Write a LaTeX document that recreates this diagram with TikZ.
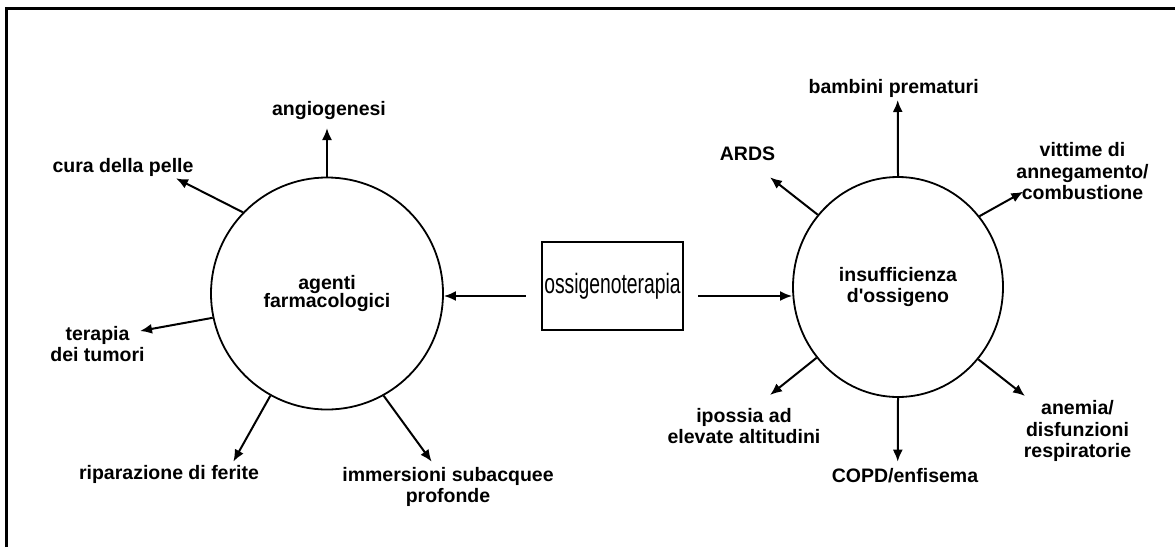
\documentclass[tikz,border=0pt]{standalone}
\usepackage{fontspec}
\setmainfont{Liberation Sans}
\usetikzlibrary{arrows.meta,shapes.geometric}
\tikzset{
  lbl/.style={font=\bfseries\fontsize{19.5}{21.5}\selectfont, align=center, inner sep=0pt},
  arr/.style={line width=2pt, -{Latex[length=12pt,width=10pt]}},
  hub/.style={draw, line width=1.8pt, inner sep=0pt, font=\bfseries\fontsize{19.5}{21.5}\selectfont, align=center},
  boxnode/.style={draw, line width=2pt, minimum width=141pt, minimum height=88pt, inner sep=0pt}
}
\begin{document}
\begin{tikzpicture}[x=1pt,y=-1pt]
\useasboundingbox (0,0) rectangle (1175,547);
% frame
\draw[line width=3pt] (6.5,547) -- (6.5,8.2) -- (1175,8.2);

% hubs
\node[hub, circle, minimum size=232pt] (L) at (327,293.5) {\raisebox{-3.5pt}{agenti}\\[-1pt]farmacologici};
\node[hub, ellipse, minimum width=210pt, minimum height=220pt] (R) at (898,287) {insufficienza\\d\textquotesingle ossigeno};
\node[boxnode] (B) at (612.5,286) {\scalebox{0.69}[1]{\fontsize{28}{30}\selectfont ossigenoterapia}};

% arrows from box
\coordinate (bl) at (525.7,296);
\coordinate (br) at (698,296);
\draw[arr] (bl) -- (bl -| L.east);
\draw[arr] (br) -- (br -| R.west);

% left tips and labels
\coordinate (t1) at (327,128);
\coordinate (t2) at (176,178.3);
\coordinate (t3) at (140,331);
\coordinate (t4) at (233.3,461.7);
\coordinate (t5) at (431.7,461.7);
\draw[arr] (L.90) -- (t1);
\draw[arr] (L.136.8) -- (t2);
\draw[arr] (L.192.8) -- (t3);
\draw[arr] (L.241.2) -- (t4);
\draw[arr] (L.299.3) -- (t5);
\node[lbl] (n1) at (329,110) {angiogenesi};
\node[lbl] (n2) at (123,167) {cura della pelle};
\node[lbl] (n3) at (97.5,344) {terapia\\dei tumori};
\node[lbl] (n4) at (169,474) {riparazione di ferite};
\node[lbl] (n5) at (448,487) {immersioni subacquee\\profonde};

% right tips and labels
\coordinate (u1) at (897.7,100);
\coordinate (u2) at (770,177.3);
\coordinate (u3) at (1023.3,191.7);
\coordinate (u4) at (770,395);
\coordinate (u5) at (897.7,461.7);
\coordinate (u6) at (1025,396);
\draw[arr] (R.90) -- (u1);
\draw[arr] (R.138.5) -- (u2);
\draw[arr] (R.41.9) -- (u3);
\draw[arr] (R.221.2) -- (u4);
\draw[arr] (R.270) -- (u5);
\draw[arr] (R.318.4) -- (u6);
\node[lbl] (m1) at (893.7,88) {bambini prematuri};
\node[lbl] (m2) at (747.5,154) {ARDS};
\node[lbl] (m3) at (1082.5,171.5) {vittime di\\annegamento/\\combustione};
\node[lbl] (m4) at (744,426) {ipossia ad\\elevate altitudini};
\node[lbl] (m5) at (905,476) {COPD/enfisema};
\node[lbl] (m6) at (1077.5,431) {anemia/\\disfunzioni\\respiratorie};
\end{tikzpicture}
\end{document}
